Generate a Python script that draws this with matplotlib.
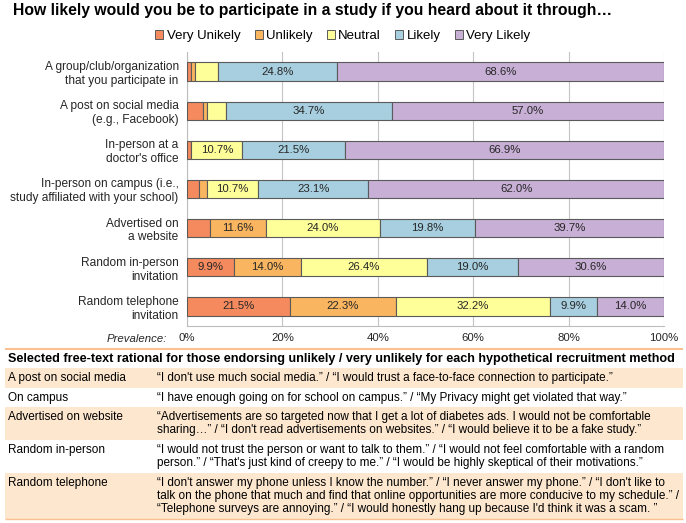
import matplotlib
matplotlib.use("Agg")
import matplotlib.pyplot as plt
from matplotlib.patches import Rectangle, Patch

# ---------------- data ----------------
categories = [
    "A group/club/organization\nthat you participate in",
    "A post on social media\n(e.g., Facebook)",
    "In-person at a\ndoctor's office",
    "In-person on campus (i.e.,\nstudy affiliated with your school)",
    "Advertised on\na website",
    "Random in-person\ninvitation",
    "Random telephone\ninvitation",
]
levels = ["Very Unikely", "Unlikely", "Neutral", "Likely", "Very Likely"]
very_unlikely = [0.9, 3.3, 0.8, 2.5, 4.9, 9.9, 21.5]
unlikely = [0.8, 0.8, 0.1, 1.7, 11.6, 14.0, 22.3]
neutral = [4.9, 4.1, 10.7, 10.7, 24.0, 26.4, 32.2]
likely = [24.8, 34.7, 21.5, 23.1, 19.8, 19.0, 9.9]
very_likely = [68.6, 57.0, 66.9, 62.0, 39.7, 30.6, 14.0]
x_ticks = [0, 20, 40, 60, 80, 100]
x_tick_labels = ["0%", "20%", "40%", "60%", "80%", "100%"]

title = "How likely would you be to participate in a study if you heard about it through\u2026"
table_header = ("Selected free-text rational for those endorsing unlikely / very unlikely "
                "for each hypothetical recruitment method")
table_methods = ["A post on social media", "On campus", "Advertised on website",
                 "Random in-person", "Random telephone"]
table_quotes = [
    ["\u201cI don't use much social media.\u201d / \u201cI would trust a face-to-face connection to participate.\u201d"],
    ["\u201cI have enough going on for school on campus.\u201d / \u201cMy Privacy might get violated that way.\u201d"],
    ["\u201cAdvertisements are so targeted now that I get a lot of diabetes ads. I would not be comfortable",
     "sharing\u2026\u201d / \u201cI don't read advertisements on websites.\u201d / \u201cI would believe it to be a fake study.\u201d"],
    ["\u201cI would not trust the person or want to talk to them.\u201d / \u201cI would not feel comfortable with a random",
     "person.\u201d / \u201cThat's just kind of creepy to me.\u201d / \u201cI would be highly skeptical of their motivations.\u201d"],
    ["\u201cI don't answer my phone unless I know the number.\u201d / \u201cI never answer my phone.\u201d / \u201cI don't like to",
     "talk on the phone that much and find that online opportunities are more conducive to my schedule.\u201d /",
     "\u201cTelephone surveys are annoying.\u201d / \u201cI would honestly hang up because I'd think it was a scam. \u201d"],
]

# ---------------- style ----------------
plt.rcParams["font.family"] = ["Liberation Sans", "DejaVu Sans"]
colors = ["#F58A5E", "#F9B55F", "#FFFF99", "#A7CFDF", "#C8AFD6"]
edge = "#5A5A5A"
text_col = "#262626"

W, H = 686, 523
fig = plt.figure(figsize=(W / 100, H / 100), dpi=100)
fig.patch.set_facecolor("white")

def px(x0, y_top, x1, y_bot):
    return [x0 / W, 1 - y_bot / H, (x1 - x0) / W, (y_bot - y_top) / H]

ax = fig.add_axes(px(187, 52, 664, 326))
series = [very_unlikely, unlikely, neutral, likely, very_likely]
ypos = list(range(len(categories)))
left = [0.0] * len(categories)
for vals, col, lab in zip(series, colors, levels):
    bars = ax.barh(ypos, vals, left=left, height=0.47, color=col, edgecolor=edge,
                   linewidth=0.8, label=lab, zorder=3)
    for b, v, l0 in zip(bars, vals, left):
        if v >= 9.0:
            ax.text(l0 + v / 2, b.get_y() + b.get_height() / 2, f"{v:.1f}%",
                    ha="center", va="center", fontsize=8.2, color=text_col, zorder=4)
    left = [a + b for a, b in zip(left, vals)]

ax.set_xlim(0, 100)
ax.set_ylim(len(categories) - 0.5, -0.5)
ax.set_xticks(x_ticks)
ax.set_xticklabels(x_tick_labels, fontsize=8.2, color=text_col)
ax.set_yticks(ypos)
ax.set_yticklabels(categories, fontsize=8.6, color=text_col)
ax.tick_params(axis="both", length=0)
ax.tick_params(axis="x", pad=5)
ax.tick_params(axis="y", pad=6)
ax.grid(axis="x", color="#C4C4C4", linewidth=0.8, zorder=0)
ax.set_axisbelow(True)
for s in ["top", "right"]:
    ax.spines[s].set_visible(False)
for s in ["left", "bottom"]:
    ax.spines[s].set_color("#BDBDBD")
    ax.spines[s].set_linewidth(0.8)

fig.text(167 / W, 1 - 339 / H, "Prevalence:", ha="right", va="center",
         fontsize=8.2, style="italic", color=text_col)

handles = [Patch(facecolor=c, edgecolor=edge, linewidth=0.7) for c in colors]
fig.legend(handles, levels, loc="center", bbox_to_anchor=(343 / W, 1 - 36 / H), ncol=5,
           frameon=False, fontsize=9.5, handlelength=0.6, handleheight=0.6,
           handletextpad=0.25, columnspacing=1.1, borderaxespad=0)

# ---------------- title ----------------
renderer = fig.canvas.get_renderer()

def fit(t, target_w):
    bb = t.get_window_extent(renderer)
    t.set_fontsize(t.get_fontsize() * target_w / bb.width)

t_title = fig.text(13 / W, 1 - 10 / H, title, ha="left", va="center", fontsize=10.5,
                   fontweight="bold", color="black")
fit(t_title, 600)

# ---------------- table ----------------
axt = fig.add_axes([0, 0, 1, 1], zorder=-1)
axt.set_xlim(0, W)
axt.set_ylim(H, 0)
axt.axis("off")

axt.plot([5, 683], [349, 349], color="#FAC08F", linewidth=1.5, solid_capstyle="butt")
t_head = axt.text(8, 359, table_header, ha="left", va="center", fontsize=7.8,
                  fontweight="bold", color="black")
fit(t_head, 668)

row_top = 368
line_h = 13.3
bg = "#FDE7CF"
for i, (m, q) in enumerate(zip(table_methods, table_quotes)):
    h = 19.5 + line_h * (len(q) - 1)
    if i % 2 == 0:
        axt.add_patch(Rectangle((5, row_top), 678, h, facecolor=bg, edgecolor="none"))
    yc = row_top + 10
    axt.text(8, yc, m, ha="left", va="center", fontsize=8.5, color="black")
    for k, line in enumerate(q):
        axt.text(157, yc + k * line_h, line, ha="left", va="center", fontsize=8.5,
                 color="black")
    row_top += h
axt.plot([5, 683], [row_top, row_top], color="#FAC08F", linewidth=1.0, solid_capstyle="butt")

fig.savefig("out.png", dpi=100, facecolor="white")
